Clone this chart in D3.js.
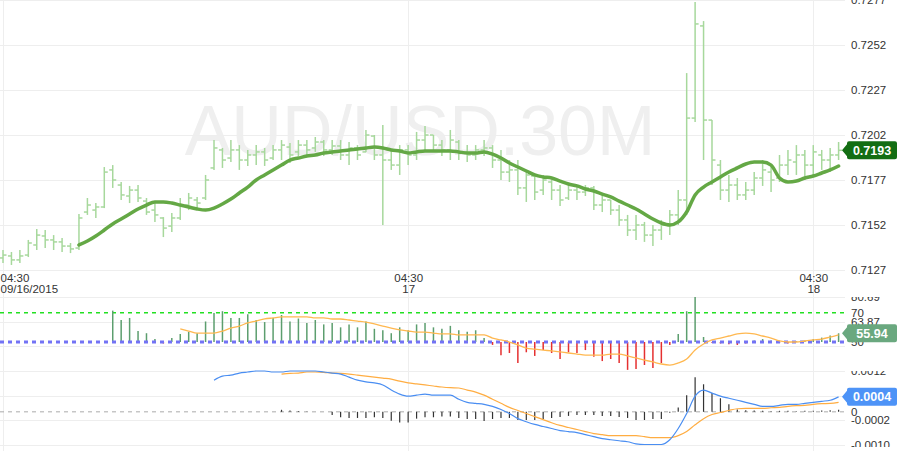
<!DOCTYPE html>
<html><head><meta charset="utf-8">
<script src="https://cdn.jsdelivr.net/npm/d3@7"></script>
<style>
body{margin:0;background:#fff;}
svg{display:block;font-family:"Liberation Sans",Arial,sans-serif;}
</style></head><body>
<svg id="c" width="900" height="451"></svg>
<script>
// ---------------- DATA ----------------
const open=[0.71337,0.71348,0.71326,0.71353,0.71409,0.71459,0.71437,0.71426,0.71403,0.71392,
0.71592,0.71603,0.71620,0.71826,0.71742,0.71681,0.71714,0.71653,0.71603,0.71559,
0.71514,0.71559,0.71631,0.71659,0.71670,0.71837,0.71937,0.71892,0.71937,0.71881,
0.71909,0.71926,0.71892,0.71937,0.71953,0.71926,0.71964,0.71948,0.71981,0.71937,
0.71959,0.71909,0.71948,0.71926,0.72014,0.71909,0.71881,0.71853,0.71937,0.71909,
0.71992,0.72020,0.71964,0.71937,0.71981,0.71926,0.71909,0.71937,0.71948,0.71881,
0.71814,0.71826,0.71726,0.71792,0.71714,0.71759,0.71714,0.71670,0.71714,0.71703,
0.71726,0.71631,0.71659,0.71603,0.71548,0.71492,0.71520,0.71464,0.71492,0.71520,
0.71576,0.71659,0.72114,0.72626,0.72103,0.71853,0.71714,0.71742,0.71687,0.71714,
0.71781,0.71814,0.71781,0.71853,0.71870,0.71909,0.71853,0.71909,0.71881,0.71909];
const high=[0.71381,0.71370,0.71381,0.71437,0.71498,0.71492,0.71464,0.71448,0.71420,0.71581,
0.71670,0.71642,0.71842,0.71853,0.71759,0.71737,0.71742,0.71670,0.71642,0.71564,
0.71587,0.71670,0.71698,0.71676,0.71798,0.71992,0.71948,0.71992,0.71964,0.71937,
0.71964,0.71948,0.71964,0.71992,0.71976,0.71992,0.71992,0.72009,0.71992,0.71992,
0.71992,0.71981,0.71964,0.72048,0.72020,0.72076,0.71937,0.71964,0.71964,0.72037,
0.72070,0.72020,0.71992,0.72048,0.71992,0.71964,0.71964,0.71992,0.71964,0.71937,
0.71881,0.71881,0.71826,0.71798,0.71798,0.71770,0.71742,0.71742,0.71742,0.71742,
0.71737,0.71687,0.71659,0.71631,0.71576,0.71576,0.71537,0.71520,0.71548,0.71603,
0.71714,0.72364,0.72759,0.72653,0.72103,0.71881,0.71798,0.71781,0.71759,0.71814,
0.71881,0.71853,0.71909,0.71937,0.71964,0.71937,0.71964,0.71937,0.71948,0.71981];
const low=[0.71309,0.71298,0.71309,0.71342,0.71381,0.71392,0.71381,0.71370,0.71364,0.71381,
0.71576,0.71559,0.71614,0.71726,0.71659,0.71642,0.71648,0.71576,0.71537,0.71453,
0.71481,0.71548,0.71603,0.71614,0.71659,0.71826,0.71837,0.71870,0.71826,0.71848,
0.71853,0.71848,0.71881,0.71881,0.71864,0.71903,0.71909,0.71926,0.71903,0.71909,
0.71881,0.71853,0.71881,0.71926,0.71881,0.71520,0.71826,0.71798,0.71853,0.71881,
0.71937,0.71926,0.71903,0.71881,0.71881,0.71870,0.71881,0.71903,0.71837,0.71770,
0.71759,0.71687,0.71648,0.71659,0.71687,0.71659,0.71626,0.71659,0.71659,0.71681,
0.71603,0.71592,0.71576,0.71514,0.71459,0.71437,0.71426,0.71403,0.71437,0.71464,
0.71520,0.71576,0.72092,0.71881,0.71742,0.71659,0.71648,0.71659,0.71659,0.71687,
0.71737,0.71703,0.71759,0.71798,0.71798,0.71770,0.71798,0.71826,0.71814,0.71881];
const close=[0.71353,0.71326,0.71348,0.71420,0.71464,0.71437,0.71426,0.71403,0.71387,0.71559,
0.71631,0.71620,0.71814,0.71770,0.71687,0.71714,0.71670,0.71592,0.71576,0.71503,
0.71559,0.71631,0.71670,0.71642,0.71770,0.71948,0.71881,0.71937,0.71881,0.71909,
0.71926,0.71881,0.71937,0.71964,0.71909,0.71964,0.71937,0.71981,0.71937,0.71959,
0.71909,0.71948,0.71909,0.72020,0.71909,0.71881,0.71853,0.71937,0.71909,0.71992,
0.72020,0.71964,0.71937,0.71992,0.71926,0.71909,0.71937,0.71948,0.71881,0.71814,
0.71826,0.71726,0.71798,0.71703,0.71770,0.71714,0.71659,0.71714,0.71703,0.71726,
0.71631,0.71659,0.71603,0.71548,0.71492,0.71520,0.71464,0.71492,0.71520,0.71576,
0.71659,0.72114,0.72637,0.72103,0.71881,0.71714,0.71742,0.71687,0.71714,0.71781,
0.71826,0.71770,0.71853,0.71881,0.71909,0.71853,0.71926,0.71881,0.71909,0.71935];

const smaStart=9;
const sma=[0.71409,0.71431,0.71459,0.71492,0.71526,0.71553,0.71581,0.71609,0.71631,0.71648,
0.71648,0.71642,0.71631,0.71620,0.71609,0.71603,0.71614,0.71637,0.71664,0.71698,
0.71731,0.71770,0.71798,0.71826,0.71853,0.71881,0.71892,0.71903,0.71909,0.71920,
0.71926,0.71931,0.71937,0.71942,0.71948,0.71953,0.71948,0.71937,0.71931,0.71920,
0.71926,0.71931,0.71931,0.71931,0.71931,0.71926,0.71920,0.71920,0.71926,0.71914,
0.71892,0.71864,0.71842,0.71820,0.71798,0.71787,0.71781,0.71764,0.71748,0.71737,
0.71720,0.71709,0.71692,0.71676,0.71653,0.71631,0.71609,0.71581,0.71553,0.71531,
0.71520,0.71537,0.71592,0.71687,0.71731,0.71759,0.71787,0.71814,0.71837,0.71859,
0.71870,0.71870,0.71853,0.71781,0.71759,0.71764,0.71781,0.71792,0.71809,0.71826,
0.71848];

const rsiStart=13;
const rsi=[71.4,65,66.4,57.5,56,52,49,52.7,55.5,57,
56,64,69.8,71,66.4,66.4,69,65,63.6,66.4,
68.4,64,66,63,65,62,63,60,62,60,
64,59,58,56,60,58,62,63,60,59,
61,58,57,58,52.7,48,41,42.5,35.7,43,
40.5,44.5,42.5,38.4,43,42.5,44.5,40,37,38.4,
35.7,31,31.6,34.3,32.3,35.7,48,55.5,71,80.69,
53.4,49.5,49,48.5,48,49,51,52,51,49.5,
49,50.5,51,52,53,54.5,55.94];

const rsiMaStart=21;
const rsiMa=[58.9,57.5,56.1,56.1,56.1,57.5,59.5,60.9,63.0,64.3,
65.7,66.4,67.1,67.1,67.1,67.1,66.4,66.4,65.7,65.7,
65.0,64.3,63.6,62.3,60.9,59.5,58.2,57.5,56.8,56.8,
56.1,55.5,55.5,54.8,54.8,54.8,54.8,52.7,51.4,50,
48,45.9,45.2,44.5,43.9,43.2,42.5,41.8,41.1,41.1,
41.1,41.8,41.8,40.5,39.1,37.7,36.4,35.0,34.3,35.7,
38.4,44.5,48.6,51.4,52.7,54.1,55.5,56.1,55.5,54.1,
52.7,50.7,50,50,50.7,51.4,52,53.4,54.8];

const macdStart=25;
const macd=[0.00093,0.00105,0.00108,0.00114,0.00117,0.00120,0.00120,0.00117,0.00117,0.00120,
0.00120,0.00120,0.00120,0.00117,0.00114,0.00111,0.00102,0.00093,0.00088,0.00085,
0.00079,0.00064,0.00052,0.00046,0.00049,0.00052,0.00049,0.00049,0.00049,0.00037,
0.00028,0.00025,0.00022,0.00016,0.00007,-0.00005,-0.00020,-0.00029,-0.00037,-0.00043,
-0.00049,-0.00055,-0.00058,-0.00061,-0.00067,-0.00073,-0.00079,-0.00082,-0.00085,-0.00088,
-0.00094,-0.00096,-0.00096,-0.00096,-0.00082,-0.00049,-0.00005,0.00046,0.00064,0.00055,
0.00046,0.00040,0.00034,0.00028,0.00022,0.00016,0.00016,0.00019,0.00022,0.00022,
0.00025,0.00028,0.00031,0.00034,0.00044];

const signalStart=33;
const signal=[0.00111,0.00113,0.00114,0.00117,0.00117,0.00116,0.00114,0.00113,0.00111,0.00108,
0.00105,0.00102,0.00099,0.00096,0.00090,0.00085,0.00082,0.00079,0.00076,0.00073,
0.00071,0.00070,0.00064,0.00058,0.00049,0.00037,0.00025,0.00013,0.00004,-0.00005,
-0.00014,-0.00023,-0.00032,-0.00040,-0.00046,-0.00052,-0.00058,-0.00064,-0.00067,-0.00070,
-0.00070,-0.00070,-0.00070,-0.00073,-0.00076,-0.00076,-0.00076,-0.00070,-0.00058,-0.00038,
-0.00020,-0.00008,-0.00002,0.00004,0.00009,0.00010,0.00010,0.00010,0.00012,0.00013,
0.00016,0.00018,0.00019,0.00022,0.00024,0.00025,0.00028];

const histStart=33;
const hist=[0.00006,0.00004,0.00002,0.00001,0,0,-0.00009,-0.00016,-0.00018,-0.00018,
-0.00018,-0.00016,-0.00018,-0.00026,-0.00031,-0.00031,-0.00020,-0.00016,-0.00016,-0.00014,
-0.00014,-0.00018,-0.00021,-0.00021,-0.00027,-0.00021,-0.00018,-0.00018,-0.00024,-0.00024,
-0.00024,-0.00021,-0.00018,-0.00015,-0.00012,-0.00009,-0.00009,-0.00009,-0.00012,-0.00012,
-0.00015,-0.00018,-0.00024,-0.00024,-0.00021,-0.00021,-0.00003,0.00013,0.00049,0.00102,
0.00081,0.00055,0.00040,0.00022,0.00007,0.00005,0.00004,0.00003,0.00002,0.00003,
0.00003,0.00002,0.00003,0.00003,0.00004,0.00005,0.00006];

const xTickIdx=[0,48,96];
const xTickTime=["04:30","04:30","04:30"];
const xTickDate=["09/16/2015","17","18"];
const priceTicks=[0.7127,0.7152,0.7177,0.7202,0.7227,0.7252,0.7277];
const rsiGrid=[80.69,63.87,47.05,30.23];
const rsiLabels=[80.69,70,63.87,50];
const macdGrid=[0.0012,0.00048,-0.00024,-0.00096];
const macdLabels=[0.0012,0.00048,0,-0.00024,-0.00096];
const symbol="AUD/USD.30M";
const lastPrice="0.7193", lastRsi="55.94", lastMacd="0.0004";

// ---------------- SCALES ----------------
const svg=d3.select("#c");
const plotR=845;
const N=open.length;
const x=d3.scaleLinear().domain([0,N-1]).range([3,838.6]);
const yP=d3.scaleLinear().domain([0.7127,0.7277]).range([270,0]);
const yR=d3.scaleLinear().domain([30.23,80.69]).range([371,297]);
const yM=d3.scaleLinear().domain([-0.00096,0.0012]).range([444.5,371]);

// clip regions for the indicator panels' axis labels
const defs=svg.append("defs");
[["clipR",297,371],["clipM",371,447]].forEach(([id,y0,y1])=>{
  defs.append("clipPath").attr("id",id).append("rect").attr("x",0).attr("y",y0).attr("width",900).attr("height",y1-y0);
});

// watermark
svg.append("text").attr("x",420).attr("y",155).attr("text-anchor","middle")
  .attr("font-size",70).attr("fill","#efefef").text(symbol);

// grid
const grid=svg.append("g").attr("stroke","#eeeeee").attr("stroke-width",1);
priceTicks.forEach(t=>grid.append("line").attr("x1",0).attr("x2",plotR).attr("y1",Math.round(yP(t))+0.5).attr("y2",Math.round(yP(t))+0.5));
rsiGrid.forEach(t=>grid.append("line").attr("x1",0).attr("x2",plotR).attr("y1",Math.round(yR(t))+0.5).attr("y2",Math.round(yR(t))+0.5));
macdGrid.forEach(t=>grid.append("line").attr("x1",0).attr("x2",plotR).attr("y1",Math.round(yM(t))+0.5).attr("y2",Math.round(yM(t))+0.5));
xTickIdx.forEach(t=>grid.append("line").attr("x1",Math.round(x(t))+0.5).attr("x2",Math.round(x(t))+0.5).attr("y1",0).attr("y2",451));

// OHLC bars
const idx=d3.range(N);
const bars=svg.append("g").attr("stroke","#a7d89c").attr("stroke-width",1.5);
idx.forEach(i=>{
  const cx=x(i);
  bars.append("line").attr("x1",cx).attr("x2",cx).attr("y1",yP(high[i])).attr("y2",yP(low[i]));
  bars.append("line").attr("x1",cx-3.5).attr("x2",cx).attr("y1",yP(open[i])).attr("y2",yP(open[i]));
  bars.append("line").attr("x1",cx).attr("x2",cx+3.5).attr("y1",yP(close[i])).attr("y2",yP(close[i]));
});

// SMA
svg.append("path").datum(sma).attr("fill","none").attr("stroke","#64a845").attr("stroke-width",3.5)
  .attr("stroke-linejoin","round").attr("stroke-linecap","round")
  .attr("d",d3.line().x((d,i)=>x(i+smaStart)).y(d=>yP(d)).curve(d3.curveMonotoneX));

// RSI panel
svg.append("line").attr("x1",0).attr("x2",plotR).attr("y1",yR(70)).attr("y2",yR(70))
  .attr("stroke","#22e022").attr("stroke-width",1.5).attr("stroke-dasharray","4,4");
const rg=svg.append("g").attr("stroke-width",1.5);
rsi.forEach((v,k)=>{
  const i=k+rsiStart;
  rg.append("line").attr("x1",x(i)).attr("x2",x(i)).attr("y1",yR(50)).attr("y2",yR(v))
    .attr("stroke",v>=50?"#5c9e6e":"#e53030");
});
svg.append("line").attr("x1",0).attr("x2",plotR).attr("y1",yR(50)).attr("y2",yR(50))
  .attr("stroke","#7373f5").attr("stroke-width",3).attr("stroke-dasharray","4,4");
svg.append("path").datum(rsiMa).attr("fill","none").attr("stroke","#ffb850").attr("stroke-width",1.3)
  .attr("d",d3.line().x((d,i)=>x(i+rsiMaStart)).y(d=>yR(d)).curve(d3.curveMonotoneX));

// MACD panel
svg.append("line").attr("x1",0).attr("x2",plotR).attr("y1",yM(0)).attr("y2",yM(0))
  .attr("stroke","#aaaaaa").attr("stroke-width",1).attr("stroke-dasharray","4,4");
const hg=svg.append("g").attr("stroke","#333").attr("stroke-width",1.2);
hist.forEach((v,k)=>{
  const i=k+histStart;
  hg.append("line").attr("x1",x(i)).attr("x2",x(i)).attr("y1",yM(0)).attr("y2",yM(v));
});
svg.append("path").datum(signal).attr("fill","none").attr("stroke","#ffad42").attr("stroke-width",1.2)
  .attr("d",d3.line().x((d,i)=>x(i+signalStart)).y(d=>yM(d)).curve(d3.curveMonotoneX));
svg.append("path").datum(macd).attr("fill","none").attr("stroke","#4a8ef2").attr("stroke-width",1.2)
  .attr("d",d3.line().x((d,i)=>x(i+macdStart)).y(d=>yM(d)).curve(d3.curveMonotoneX));

// axes
function styleAxis(g){
  g.select(".domain").remove();
  g.selectAll("text").attr("fill","#333").attr("font-size",11.5).attr("font-family","Liberation Sans, Arial, sans-serif");
}
svg.append("g").attr("transform",`translate(${plotR},0)`)
  .call(d3.axisRight(yP).tickValues(priceTicks).tickSize(0).tickPadding(6).tickFormat(d3.format(".4f"))).call(styleAxis);
svg.append("g").attr("clip-path","url(#clipR)").append("g").attr("transform",`translate(${plotR},0)`)
  .call(d3.axisRight(yR).tickValues(rsiLabels).tickSize(0).tickPadding(6).tickFormat(d=>String(d))).call(styleAxis);
svg.append("g").attr("clip-path","url(#clipM)").append("g").attr("transform",`translate(${plotR},0)`)
  .call(d3.axisRight(yM).tickValues(macdLabels).tickSize(0).tickPadding(6).tickFormat(d=>d===0?"0":d.toFixed(4))).call(styleAxis);

const xa=svg.append("g").attr("transform","translate(0,270)")
  .call(d3.axisBottom(x).tickValues(xTickIdx).tickSize(0).tickPadding(0).tickFormat((d,i)=>xTickTime[i]));
xa.select(".domain").remove();
xa.selectAll("text").each(function(d,i){
  const t=d3.select(this);
  t.text(null).attr("y",0).attr("dy",null).attr("fill","#333").attr("font-size",11.5)
   .attr("font-family","Liberation Sans, Arial, sans-serif");
  const first=(x(d)<30);
  if(first){ t.attr("text-anchor","start").attr("x",-x(d)); }
  t.append("tspan").attr("x",first?-x(d):0).attr("y",12).text(xTickTime[i]);
  t.append("tspan").attr("x",first?-x(d):0).attr("y",22.5).text(xTickDate[i]);
});

// value boxes
function valueBox(y,label,color){
  const g=svg.append("g");
  g.append("path").attr("fill",color)
   .attr("d",`M842,${y} L847,${y-6} L847,${y-7} Q847,${y-9} 849,${y-9} L895,${y-9} Q897,${y-9} 897,${y-7} L897,${y+7} Q897,${y+9} 895,${y+9} L849,${y+9} Q847,${y+9} 847,${y+7} L847,${y+6} Z`);
  g.append("text").attr("x",872).attr("y",y+4.5).attr("text-anchor","middle").attr("fill","#fff")
   .attr("font-size",12.5).attr("font-weight","bold").text(label);
}
valueBox(yP(close[N-1]),lastPrice,"#136e13");
valueBox(yR(rsi[rsi.length-1]),lastRsi,"#6aa87f");
valueBox(yM(macd[macd.length-1]),lastMacd,"#4d93f7");
</script>
</body></html>
